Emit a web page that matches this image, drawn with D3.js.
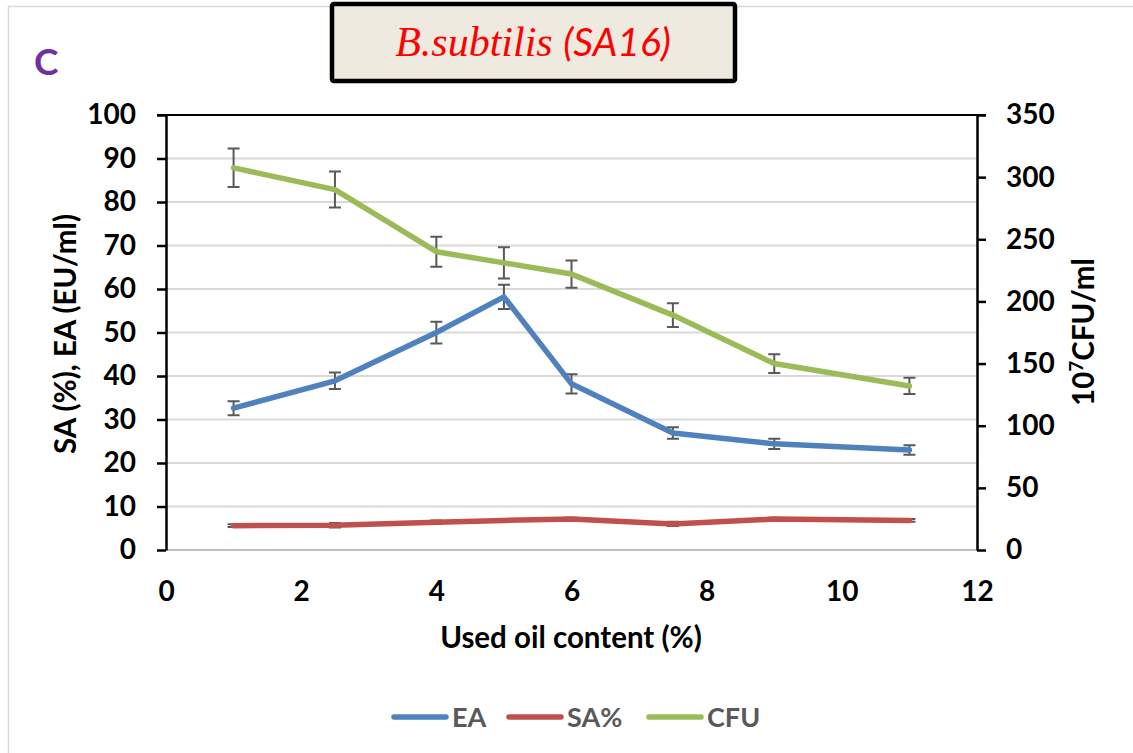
<!DOCTYPE html>
<html>
<head>
<meta charset="utf-8">
<script src="https://cdn.jsdelivr.net/npm/d3@7"></script>
<style>
  html, body { margin: 0; padding: 0; background: #fff; }
  svg { display: block; }
  text { font-family: Lato, "Open Sans", sans-serif; }
</style>
</head>
<body>
<svg id="chart" width="1133" height="753"></svg>
<script>
// Used oil content (%) at each sampling point
const oilContent = [1, 2.5, 4, 5, 6, 7.5, 9, 11];

// Emulsifying activity (EU/ml) and its error
const eaValues = [32.6, 38.9, 50.0, 58.2, 38.2, 26.9, 24.4, 23.0];
const eaErrors = [1.6, 1.9, 2.5, 2.8, 2.2, 1.3, 1.2, 1.1];

// Surface activity (%) and its error
const saValues = [5.6, 5.7, 6.4, 6.8, 7.1, 6.0, 7.1, 6.8];
const saErrors = [0.3, 0.5, 0.4, 0.3, 0.3, 0.5, 0.3, 0.3];

// Viable count (10^7 CFU/ml) and its error
const cfuValues = [307.5, 290, 240, 231, 222, 189, 150, 132];
const cfuErrors = [15.5, 14.5, 12, 12.5, 11, 9.5, 7.5, 6.5];

const xTicks = [0, 2, 4, 6, 8, 10, 12];
const leftTicks = [0, 10, 20, 30, 40, 50, 60, 70, 80, 90, 100];
const rightTicks = [0, 50, 100, 150, 200, 250, 300, 350];

const colors = { EA: "#4f81bd", SA: "#c0504d", CFU: "#9bbb59" };

const svg = d3.select("#chart");

const plot = { left: 166, right: 977, top: 115, bottom: 550 };

const x = d3.scaleLinear().domain([0, 12]).range([plot.left, plot.right]);
const yL = d3.scaleLinear().domain([0, 100]).range([plot.bottom, plot.top]);
const yR = d3.scaleLinear().domain([0, 350]).range([plot.bottom, plot.top]);

// outer frame (only left and top edges fall inside the canvas)
svg.append("path")
  .attr("d", "M8.5,760 L8.5,6.5 L1140,6.5")
  .attr("fill", "none").attr("stroke", "#d9d9d9").attr("stroke-width", 1.5);

// panel letter
svg.append("text").attr("x", 34).attr("y", 75)
  .attr("font-size", 37).attr("font-weight", 700).attr("fill", "#7030a0").text("C");

// title box
svg.append("rect").attr("x", 332).attr("y", 4).attr("width", 403).attr("height", 77)
  .attr("rx", 2).attr("fill", "#eeeae0").attr("stroke", "#000").attr("stroke-width", 4.5);
const title = svg.append("text").attr("x", 533).attr("y", 56)
  .attr("text-anchor", "middle").attr("fill", "#ff0000").attr("font-style", "italic");
title.append("tspan").attr("font-family", "'Liberation Serif', serif").attr("font-size", 42).text("B.subtilis ");
title.append("tspan").attr("font-family", "Lato, sans-serif").attr("font-size", 39).text("(SA16)");

// horizontal gridlines
svg.append("g").selectAll("line")
  .data(leftTicks.filter(d => d > 0 && d < 100))
  .join("line")
  .attr("x1", plot.left).attr("x2", plot.right)
  .attr("y1", d => yL(d)).attr("y2", d => yL(d))
  .attr("stroke", "#d9d9d9").attr("stroke-width", 2);

// bottom line of plot area
svg.append("line").attr("x1", plot.left).attr("x2", plot.right)
  .attr("y1", plot.bottom).attr("y2", plot.bottom)
  .attr("stroke", "#bfbfbf").attr("stroke-width", 2);
// top line of plot area
svg.append("line").attr("x1", plot.left - 9).attr("x2", plot.right + 9)
  .attr("y1", plot.top).attr("y2", plot.top)
  .attr("stroke", "#000").attr("stroke-width", 2);

// left axis
const leftAxis = svg.append("g").attr("transform", `translate(${plot.left},0)`)
  .call(d3.axisLeft(yL).tickValues(leftTicks).tickSize(9).tickPadding(21).tickSizeOuter(0));
// right axis
const rightAxis = svg.append("g").attr("transform", `translate(${plot.right},0)`)
  .call(d3.axisRight(yR).tickValues(rightTicks).tickSize(9).tickPadding(20).tickSizeOuter(0));
[leftAxis, rightAxis].forEach(g => {
  g.select(".domain").attr("stroke", "#000").attr("stroke-width", 2.5);
  g.selectAll(".tick line").attr("stroke", "#000").attr("stroke-width", 2.5);
  g.selectAll(".tick text").attr("font-size", 28).attr("font-weight", 700)
    .attr("fill", "#000").attr("font-family", "Lato, sans-serif");
});

// bottom axis labels (no tick marks)
const bottomAxis = svg.append("g").attr("transform", `translate(0,${plot.bottom})`)
  .call(d3.axisBottom(x).tickValues(xTicks).tickSize(0).tickPadding(31));
bottomAxis.select(".domain").remove();
bottomAxis.selectAll(".tick text").attr("font-size", 28).attr("font-weight", 700)
  .attr("fill", "#000").attr("font-family", "Lato, sans-serif");

// axis titles
svg.append("text").attr("x", 571).attr("y", 648).attr("text-anchor", "middle")
  .attr("font-size", 29.5).attr("font-weight", 700).attr("fill", "#000")
  .text("Used oil content (%)");
svg.append("text").attr("transform", "translate(76,334) rotate(-90)")
  .attr("text-anchor", "middle").attr("font-size", 29.5).attr("font-weight", 700).attr("fill", "#000")
  .text("SA (%), EA (EU/ml)");
const rt = svg.append("text").attr("transform", "translate(1094,332) rotate(-90)")
  .attr("text-anchor", "middle").attr("font-size", 29.5).attr("font-weight", 700).attr("fill", "#000");
rt.append("tspan").text("10");
rt.append("tspan").attr("font-size", 19).attr("dy", -11).text("7");
rt.append("tspan").attr("dy", 11).text("CFU/ml");

// series
const series = [
  { key: "EA", values: eaValues, errors: eaErrors, y: yL },
  { key: "SA", values: saValues, errors: saErrors, y: yL },
  { key: "CFU", values: cfuValues, errors: cfuErrors, y: yR }
];

series.forEach(s => {
  const pts = oilContent.map((xv, i) => ({ x: xv, v: s.values[i], e: s.errors[i] }));
  // error bars
  const eg = svg.append("g").attr("stroke", "#595959").attr("stroke-width", 2).attr("fill", "none");
  eg.selectAll("path").data(pts).join("path")
    .attr("d", d => {
      const cx = x(d.x), y1 = s.y(d.v + d.e), y2 = s.y(d.v - d.e);
      return `M${cx - 6},${y1}H${cx + 6}M${cx},${y1}V${y2}M${cx - 6},${y2}H${cx + 6}`;
    });
  // line
  svg.append("path").datum(pts)
    .attr("d", d3.line().x(d => x(d.x)).y(d => s.y(d.v)))
    .attr("fill", "none").attr("stroke", colors[s.key])
    .attr("stroke-width", 5.5).attr("stroke-linejoin", "round").attr("stroke-linecap", "round");
});

// legend
const legendItems = [
  { label: "EA", color: colors.EA, x: 394 },
  { label: "SA%", color: colors.SA, x: 509 },
  { label: "CFU", color: colors.CFU, x: 649 }
];
const lg = svg.append("g");
legendItems.forEach(it => {
  lg.append("line").attr("x1", it.x).attr("x2", it.x + 52).attr("y1", 717).attr("y2", 717)
    .attr("stroke", it.color).attr("stroke-width", 5.5).attr("stroke-linecap", "round");
  lg.append("text").attr("x", it.x + 58).attr("y", 727)
    .attr("font-size", 27).attr("font-weight", 700).attr("fill", "#595959").text(it.label);
});
</script>
</body>
</html>
